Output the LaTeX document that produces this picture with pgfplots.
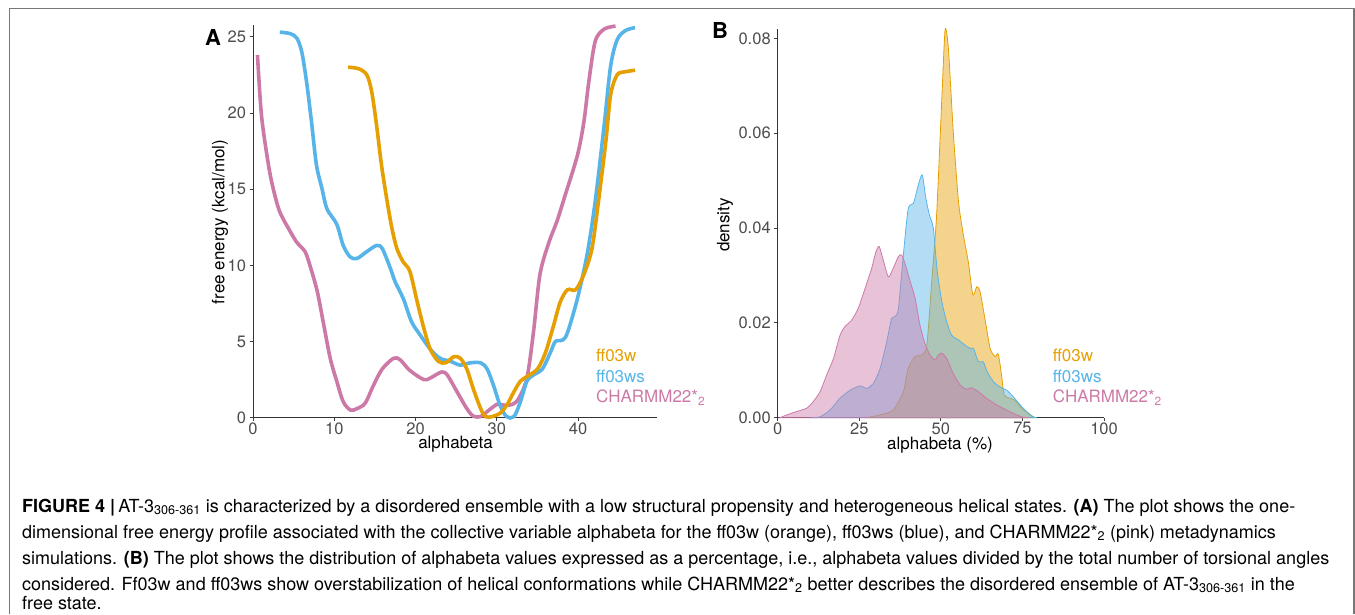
\documentclass[border=0pt]{standalone}
\usepackage{fontspec}
\setmainfont{TeX Gyre Heros}
\usepackage{pgfplots}
\pgfplotsset{compat=1.18}
\definecolor{cO}{HTML}{E69F00}
\definecolor{cB}{HTML}{56B4E9}
\definecolor{cP}{HTML}{CC79A7}
\definecolor{tickgray}{HTML}{4D4D4D}
\definecolor{framegray}{HTML}{777777}
\pgfplotsset{myax/.style={scale only axis, axis x line*=bottom, axis y line*=left,
  axis line style={-, line width=1pt, color=black!80},
  tick align=outside, major tick length=3.5pt,
  tick style={line width=0.8pt, color=black!75},
  ticklabel style={font=\fontsize{16.5}{16.5}\selectfont, text=tickgray},
  xticklabel style={inner sep=1pt},
  /pgf/number format/assume math mode=true, clip=false}}
\begin{document}
\begin{tikzpicture}
\path[use as bounding box] (0pt,0pt) rectangle (1355pt,614pt);
\draw[line width=1.5pt, color=framegray] (9.5pt,0pt) -- (9.5pt,605.5pt) -- (1354pt,605.5pt) -- (1354pt,0pt);
% Panel A
\begin{axis}[myax, at={(253pt,196.3pt)}, anchor=south west, width=404pt, height=392.7pt,
  xmin=0, xmax=49.7, ymin=0, ymax=25.77, xtick={0,10,20,30,40}, ytick={0,5,10,15,20,25}]
\addplot[cP, line width=3.6pt, smooth, tension=0.5] coordinates {
(0.55,23.8)(1.05,19.8)(1.9,16.6)(2.5,15.0)(3.3,13.5)(4.6,12.2)(5.4,11.5)(6.4,10.9)(7.0,10.0)(7.9,8.3)(8.7,6.1)(9.5,3.9)(10.3,2.4)(11.1,1.05)(12.0,0.5)(12.8,0.6)(13.8,0.95)(14.8,2.1)(15.9,3.2)(17.3,3.9)(18.1,3.8)(19.3,3.1)(21.0,2.5)(21.8,2.6)(23.2,3.0)(23.9,2.8)(25.1,1.7)(26.3,0.6)(27.1,0.1)(28.0,0.07)(28.8,0.4)(30.0,0.87)(30.8,0.83)(31.9,0.87)(32.7,1.27)(33.7,2.6)(34.5,5.6)(35.3,9.4)(36.4,11.5)(37.4,12.9)(38.4,14.6)(39.9,17.2)(40.7,19.4)(41.3,22.0)(42.1,24.7)(43.2,25.5)(44.6,25.7)};
\addplot[cB, line width=3.6pt, smooth, tension=0.5] coordinates {
(3.3,25.3)(4.6,25.2)(5.4,24.9)(6.0,24.0)(6.6,22.0)(7.2,19.4)(7.8,16.6)(8.5,15.0)(9.1,13.7)(10.3,12.7)(11.1,11.3)(11.95,10.55)(12.8,10.45)(14.0,10.9)(15.2,11.3)(15.9,11.1)(16.9,9.8)(17.5,8.9)(18.5,7.8)(19.5,6.3)(20.6,5.4)(21.8,4.5)(23.0,3.9)(24.3,3.7)(25.5,3.45)(26.7,3.6)(28.0,3.6)(28.8,3.2)(29.6,2.1)(30.4,0.8)(31.2,0.07)(32.1,0.07)(32.9,1.05)(33.7,2.4)(34.5,2.8)(35.6,3.2)(36.6,4.3)(37.2,5.0)(38.1,5.1)(38.7,5.6)(39.9,7.8)(41.1,10.7)(42.1,14.2)(43.2,19.2)(44.0,23.1)(44.8,24.8)(45.8,25.4)(47.0,25.6)};
\addplot[cO, line width=3.6pt, smooth, tension=0.5] coordinates {
(11.7,23.0)(13.0,22.9)(14.0,22.5)(14.6,21.4)(15.2,19.2)(15.8,16.6)(16.5,14.2)(17.1,12.4)(17.7,11.1)(18.5,10.2)(19.3,9.6)(20.2,7.6)(21.0,5.9)(21.8,4.5)(22.8,3.7)(23.7,3.6)(24.7,4.0)(25.5,3.9)(26.3,3.2)(27.1,1.9)(28.0,0.6)(28.6,0.07)(29.4,0.07)(30.4,0.3)(31.2,0.8)(32.1,1.7)(32.9,2.4)(33.7,2.7)(35.0,3.2)(36.0,4.3)(37.0,6.1)(37.8,7.6)(38.7,8.4)(39.7,8.4)(40.7,9.4)(41.7,11.1)(42.5,14.2)(43.4,18.1)(44.0,21.2)(44.8,22.5)(45.8,22.7)(47.0,22.8)};
\end{axis}
% Panel B
\begin{axis}[myax, at={(777.7pt,196.3pt)}, anchor=south west, width=326.3pt, height=388.7pt,
  xmin=0, xmax=100, ymin=0, ymax=0.08196, xtick={0,25,50,75,100}, ytick={0,0.02,0.04,0.06,0.08},
  yticklabel style={/pgf/number format/.cd, fixed, fixed zerofill, precision=2},
  scaled y ticks=false]
\addplot[draw=cO, line width=0.8pt, fill=cO, fill opacity=0.45, smooth, tension=0.4] coordinates {
(27,0)(31.4,0.0006)(35.4,0.0016)(38.5,0.0055)(40.0,0.0104)(42.1,0.0129)(44.1,0.0132)(45.7,0.0153)(47.2,0.0287)(48.7,0.0427)(50.3,0.0673)(51.3,0.0818)(52.3,0.0779)(53.8,0.0603)(55.4,0.0456)(56.9,0.0385)(58.4,0.0329)(59.8,0.0259)(61.0,0.0276)(62.0,0.0266)(63.5,0.0209)(65.1,0.0146)(66.6,0.0129)(67.6,0.0134)(68.6,0.0090)(69.4,0.0048)(71.2,0.0041)(72.7,0.0037)(74.8,0.002)(77.3,0.0006)(78.9,0)} \closedcycle;
\addplot[draw=cB, line width=0.8pt, fill=cB, fill opacity=0.45, smooth, tension=0.4] coordinates {
(10,0)(13,0.0002)(16.0,0.0016)(19.1,0.0041)(22.2,0.0058)(25.2,0.0067)(27.3,0.0062)(29.3,0.0072)(31.4,0.0104)(33.4,0.016)(34.9,0.0209)(36.0,0.0213)(37.0,0.0231)(38.5,0.0343)(40.0,0.0441)(41.6,0.0452)(43.1,0.0491)(44.3,0.0512)(45.4,0.0463)(46.5,0.0427)(47.7,0.0399)(48.9,0.0308)(50.3,0.0245)(51.8,0.0202)(53.3,0.0174)(55.4,0.0164)(57.4,0.0153)(59.0,0.0146)(60.0,0.0146)(61.5,0.0118)(63.0,0.0118)(64.2,0.0097)(66.1,0.0076)(68.1,0.0065)(70.2,0.0058)(72.2,0.0044)(74.3,0.0027)(76.3,0.0013)(78.3,0.0002)(79.4,0)} \closedcycle;
\addplot[draw=cP, line width=0.8pt, fill=cP, fill opacity=0.45, smooth, tension=0.4] coordinates {
(0.7,0)(2.8,0.0006)(5.8,0.0013)(8.9,0.002)(10.9,0.0034)(13.0,0.0055)(15.0,0.009)(17.1,0.0125)(19.1,0.0174)(20.6,0.0192)(22.7,0.0206)(24.7,0.0231)(26.8,0.0273)(28.8,0.0315)(30.1,0.035)(31.1,0.0361)(32.2,0.0336)(33.9,0.0297)(35.4,0.0315)(37.0,0.034)(38.0,0.0343)(39.0,0.0325)(40.6,0.0287)(42.1,0.0252)(43.6,0.0195)(45.1,0.0157)(46.7,0.0132)(48.2,0.0122)(49.2,0.0132)(50.3,0.0136)(51.8,0.0125)(53.8,0.0093)(55.9,0.0069)(57.9,0.006)(59.4,0.0063)(61.5,0.0055)(64.0,0.0041)(67.1,0.0027)(70.2,0.0016)(73.2,0.0006)(75.3,0.0001)(77,0)} \closedcycle;
\end{axis}
% axis titles, panel letters, legends
\begin{scope}[font=\fontsize{17}{17}\selectfont]
\node[rotate=90] at (220pt,392pt) {free energy (kcal/mol)};
\node[inner sep=0pt] at (455.5pt,170pt) {alphabeta};
\node[rotate=90] at (725pt,389pt) {density};
\node[inner sep=0pt] at (940pt,169pt) {alphabeta (\%)};
\node[anchor=west, text=cO, inner sep=0pt] at (596pt,258.3pt) {ff03w};
\node[anchor=west, text=cB, inner sep=0pt] at (596pt,237.3pt) {ff03ws};
\node[anchor=west, text=cP, inner sep=0pt] at (596pt,216.3pt) {CHARMM22*\textsubscript{2}};
\node[anchor=west, text=cO, inner sep=0pt] at (1052.7pt,258.3pt) {ff03w};
\node[anchor=west, text=cB, inner sep=0pt] at (1052.7pt,237.3pt) {ff03ws};
\node[anchor=west, text=cP, inner sep=0pt] at (1052.7pt,216.3pt) {CHARMM22*\textsubscript{2}};
\end{scope}
\node[font=\fontsize{22}{22}\selectfont\bfseries] at (213pt,577pt) {A};
\node[font=\fontsize{22}{22}\selectfont\bfseries] at (720pt,584pt) {B};
% caption
\begin{scope}[font=\fontsize{18}{18}\selectfont, every node/.style={anchor=base west, inner sep=0pt}]
\node at (22pt,102pt) {\textbf{FIGURE 4 |}\,AT-3\textsubscript{306-361} is characterized by a disordered ensemble with a low structural propensity and heterogeneous helical states. \textbf{(A)} The plot shows the one-};
\node at (22pt,76pt) {dimensional free energy profile associated with the collective variable alphabeta for the ff03w (orange), ff03ws (blue), and CHARMM22*\textsubscript{2} (pink) metadynamics};
\node at (22pt,50pt) {simulations. \textbf{(B)} The plot shows the distribution of alphabeta values expressed as a percentage, i.e., alphabeta values divided by the total number of torsional angles};
\node at (22pt,24pt) {considered. Ff03w and ff03ws show overstabilization of helical conformations while CHARMM22*\textsubscript{2} better describes the disordered ensemble of AT-3\textsubscript{306-361} in the};
\node at (22pt,5pt) {free state.};
\end{scope}
\end{tikzpicture}
\end{document}
